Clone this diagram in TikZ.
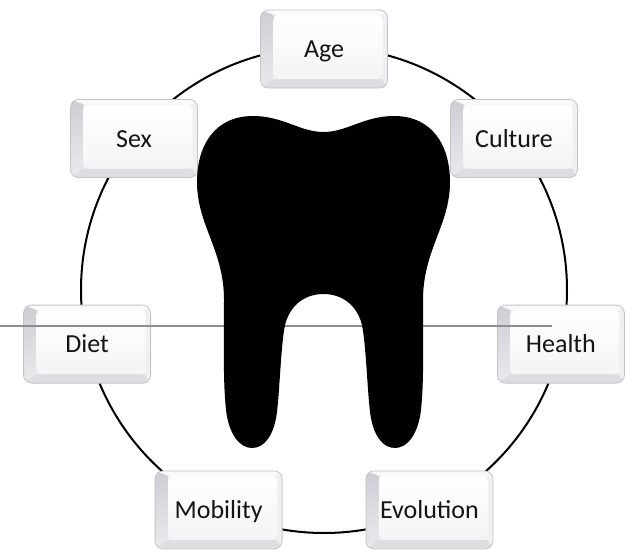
\documentclass[tikz,border=0pt]{standalone}
\usepackage{fontspec}
\setmainfont{Carlito}
\definecolor{rulegray}{HTML}{8E8E8E}
\definecolor{boxedge}{HTML}{C4C4CA}
\definecolor{bevtop}{HTML}{F9F9FA}
\definecolor{bevleftA}{HTML}{CDCDD4}
\definecolor{bevleftB}{HTML}{EAEAEE}
\definecolor{bevbot}{HTML}{DDDDE2}
\definecolor{bevright}{HTML}{F0F0F2}
\definecolor{facebot}{HTML}{F4F4F6}
\begin{document}
\begin{tikzpicture}[x=1pt,y=-1pt,
  ring/.style={line width=2pt, draw=black},
  rule/.style={line width=1.1pt, draw=rulegray},
  factor/.style={minimum width=127pt, minimum height=78pt, inner sep=0pt,
    rounded corners=8pt, draw=boxedge, line width=0.8pt, fill=bevright,
    font=\fontsize{26}{30}\selectfont, text=black!92,
    text height=20pt, text depth=3pt,
    path picture={
      \path (path picture bounding box.north west) coordinate (q1)
            (path picture bounding box.south east) coordinate (q3);
      \path (q1 -| q3) coordinate (q2) (q1 |- q3) coordinate (q4);
      \path ([shift={(13,5)}]q1) coordinate (f1)
            ([shift={(-5,5)}]q2) coordinate (f2)
            ([shift={(-5,-9)}]q3) coordinate (f3)
            ([shift={(13,-9)}]q4) coordinate (f4);
      \fill[bevtop, sharp corners] (q1) -- (q2) -- (f2) -- (f1) -- cycle;
      \shade[top color=bevleftA, bottom color=bevleftB, sharp corners]
            (q1) -- (f1) -- (f4) -- (q4) -- cycle;
      \fill[bevbot, sharp corners] (q4) -- (f4) -- (f3) -- (q3) -- cycle;
      \fill[bevright, sharp corners] (q2) -- (q3) -- (f3) -- (f2) -- cycle;
      \shade[top color=white, bottom color=facebot, rounded corners=5pt]
            (f1) rectangle (f3);
    }},
  tooth/.style={fill=black}]

\useasboundingbox (0,0) rectangle (641,554);

% ring behind the factor boxes
\coordinate (c) at (324,290);
\draw[ring] (c) circle (243);

% factors around the ring
\node[factor] (age)       at (324.0, 49.0)  {Age};
\node[factor] (culture)   at (514.0, 138.5) {Culture};
\node[factor] (health)    at (560.9, 344.1) {Health};
\node[factor] (evolution) at (429.4, 509.9) {Evolution};
\node[factor] (mobility)  at (218.6, 509.9) {Mobility};
\node[factor] (diet)      at (87.1, 344.1)  {Diet};
\node[factor] (sex)       at (134.0, 138.5) {Sex};

% thin horizontal rule
\coordinate (r1) at (0,326);
\coordinate (r2) at (552,326);
\draw[rule] (r1) -- (r2);

% tooth silhouette
\fill[tooth] (323.5,132)
  .. controls (300,132) and (283,116) .. (253,116)
  .. controls (215,116) and (197,145) .. (197,182)
  .. controls (197,225) and (224,250) .. (224,300)
  .. controls (224,350) and (223,380) .. (226,410)
  .. controls (229,435) and (240,448) .. (252,448)
  .. controls (264,448) and (274,436) .. (277,412)
  .. controls (280,385) and (281,345) .. (285,325)
  .. controls (290,305) and (305,294) .. (323.5,294)
  .. controls (342,294) and (357,305) .. (362,325)
  .. controls (366,345) and (367,385) .. (370,412)
  .. controls (373,436) and (383,448) .. (395,448)
  .. controls (407,448) and (418,435) .. (421,410)
  .. controls (424,380) and (423,350) .. (423,300)
  .. controls (423,250) and (450,225) .. (450,182)
  .. controls (450,145) and (432,116) .. (394,116)
  .. controls (364,116) and (347,132) .. (323.5,132) -- cycle;
\end{tikzpicture}
\end{document}
